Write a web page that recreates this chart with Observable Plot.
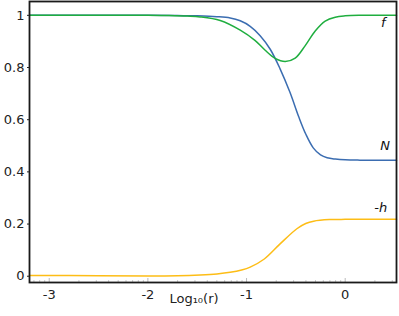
<!DOCTYPE html>
<html><head><meta charset="utf-8">
<script src="https://cdn.jsdelivr.net/npm/d3@7"></script>
<script src="https://cdn.jsdelivr.net/npm/@observablehq/plot@0.6"></script>
<style>body{margin:0;background:#fff} svg{display:block}</style>
</head><body><div id="chart"></div>
<script>
// N(r)
const nX = [-3.2, -2.4, -2.0, -1.7, -1.5, -1.3, -1.166, -1.064, -0.963, -0.862, -0.76, -0.66, -0.56, -0.47, -0.40, -0.324, -0.25, -0.183, -0.1, 0.0, 0.15, 0.3, 0.52];
const nY = [1, 1, 1, 0.999, 0.998, 0.995, 0.990, 0.979, 0.958, 0.922, 0.870, 0.795, 0.705, 0.610, 0.545, 0.492, 0.465, 0.454, 0.449, 0.446, 0.445, 0.445, 0.445];
// f(r)
const fX = [-3.2, -2.4, -2.0, -1.8, -1.6, -1.47, -1.267, -1.064, -0.912, -0.811, -0.710, -0.608, -0.507, -0.405, -0.304, -0.203, -0.101, 0.0, 0.15, 0.3, 0.52];
const fY = [1, 1, 1, 0.999, 0.997, 0.994, 0.980, 0.943, 0.903, 0.866, 0.835, 0.823, 0.836, 0.884, 0.940, 0.978, 0.993, 0.998, 1, 1, 1];
// -h(r)
const hX = [-3.2, -2.5, -2.0, -1.7, -1.47, -1.3, -1.166, -1.05, -0.963, -0.82, -0.66, -0.49, -0.40, -0.32, -0.16, 0.0, 0.2, 0.52];
const hY = [0.003, 0.002, 0.001, 0.002, 0.005, 0.009, 0.015, 0.024, 0.035, 0.066, 0.124, 0.182, 0.202, 0.211, 0.217, 0.218, 0.218, 0.218];

const seriesNames = ["N", "f", "-h"];
const seriesColors = ["#3b6db1", "#1fae3f", "#fdbd16"];
const labelX = [0.405, 0.385, 0.36];
const labelY = [0.50, 0.972, 0.263];

const xTicks = [-3, -2, -1, 0];
const xTickLabels = ["-3", "-2", "-1", "0"];
const yTicks = [0, 0.2, 0.4, 0.6, 0.8, 1];
const yTickLabels = ["0", "0.2", "0.4", "0.6", "0.8", "1"];
const xLabel = "Log\u2081\u2080(r)";

const minorTicks = [];
for (let d = -4; d <= 0; d++) for (let k = 2; k <= 9; k++) {
  const v = d + Math.log10(k);
  if (v > -3.2 && v < 0.52) minorTicks.push(v);
}

const series = [[nX, nY], [fX, fY], [hX, hY]].map(([xs, ys], i) =>
  xs.map((x, j) => ({x, y: ys[j], name: seriesNames[i]})));
const labels = seriesNames.map((name, i) => ({name, x: labelX[i], y: labelY[i]}));

const chart = Plot.plot({
  width: 399, height: 316,
  marginLeft: 29, marginRight: 3, marginTop: 1, marginBottom: 34,
  style: {fontFamily: "DejaVu Sans", fontSize: "13px", color: "#222", background: "#fff"},
  x: {domain: [-3.2, 0.52]},
  y: {domain: [-0.024, 1.053]},
  marks: [
    Plot.tickX(minorTicks, {x: d => d, stroke: "#ccc", insetTop: 279}),
    Plot.tickX(xTicks, {x: d => d, stroke: "#bbb", insetTop: 277}),
    ...series.map((s, i) => Plot.line(s, {x: "x", y: "y", stroke: seriesColors[i], strokeWidth: 1.5, curve: "catmull-rom"})),
    Plot.text(labels, {x: "x", y: "y", text: "name", fontStyle: "italic", fontSize: 13, fill: "#111"}),
    Plot.frame({stroke: "#1a1a1a", strokeWidth: 1.8}),
    Plot.axisY({ticks: yTicks, tickFormat: (d, i) => yTickLabels[yTicks.indexOf(d)], tickSize: 2, tickPadding: 3, label: null, fill: "#222"}),
    Plot.axisX({ticks: xTicks, tickFormat: d => xTickLabels[xTicks.indexOf(d)], tickSize: 0, tickPadding: 7, label: null, fill: "#222"}),
    Plot.text([xLabel], {frameAnchor: "bottom", dx: -19, dy: 20, fontSize: 13, fill: "#222"})
  ]
});
document.getElementById("chart").appendChild(chart);
</script>
</body></html>
